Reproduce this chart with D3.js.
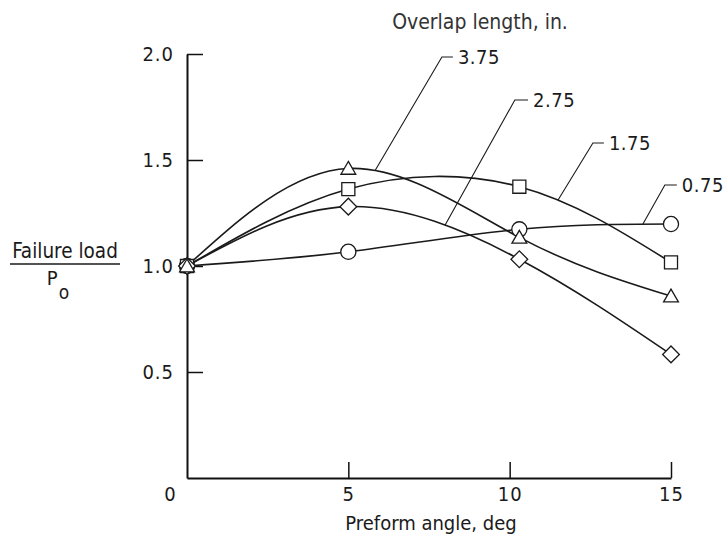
<!DOCTYPE html>
<html>
<head>
<meta charset="utf-8">
<script src="https://cdn.jsdelivr.net/npm/d3@7"></script>
<style>
  body { margin: 0; background: #fff; }
  text { font-family: "DejaVu Sans Condensed", "DejaVu Sans", sans-serif; fill: #1a1a1a; }
</style>
</head>
<body>
<svg id="chart"></svg>
<script>
// values
var angle = [0, 5, 10.3, 15];
var overlap075 = [1.0, 1.067, 1.173, 1.198];
var overlap175 = [1.0, 1.363, 1.374, 1.017];
var overlap275 = [1.0, 1.28, 1.032, 0.583];
var overlap375 = [1.0, 1.46, 1.135, 0.858];

var seriesNames = ["0.75", "1.75", "2.75", "3.75"];
var seriesValues = [overlap075, overlap175, overlap275, overlap375];
var seriesSymbols = ["circle", "square", "diamond", "triangle"];

var xTicks = [0, 5, 10, 15];
var yTicks = [0.5, 1.0, 1.5, 2.0];

// callouts: where the leader meets the curve (x), and where the label sits
var callouts = [
  { name: "3.75", attachX: 5.83, elbowX: 7.9, endX: 8.24, labelY: 1.986 },
  { name: "2.75", attachX: 8.0, elbowX: 10.16, endX: 10.57, labelY: 1.783 },
  { name: "1.75", attachX: 11.5, elbowX: 12.58, endX: 12.92, labelY: 1.58 },
  { name: "0.75", attachX: 14.13, elbowX: 14.81, endX: 15.18, labelY: 1.382 }
];

var width = 726, height = 545;

var svg = d3.select("#chart")
  .attr("width", width)
  .attr("height", height);

svg.append("rect").attr("width", width).attr("height", height).attr("fill", "#fff");

var x = d3.scaleLinear().domain([0, 15]).range([187, 671]);
var y = d3.scaleLinear().domain([0, 2]).range([478, 54]);

// y axis, ticks pointing inward
var yAxis = svg.append("g")
  .attr("transform", "translate(" + x(0) + ",0)")
  .call(d3.axisLeft(y).tickValues(yTicks).tickSizeInner(-16).tickSizeOuter(0)
    .tickPadding(13).tickFormat(d3.format(".1f")));

// x axis, ticks pointing up
var xAxis = svg.append("g")
  .attr("transform", "translate(0," + y(0) + ")")
  .call(d3.axisBottom(x).tickValues(xTicks).tickSizeInner(-16).tickSizeOuter(0)
    .tickPadding(9).tickFormat(d3.format("d")));

[xAxis, yAxis].forEach(function(a) {
  a.select(".domain").attr("stroke", "#111").attr("stroke-width", 2);
  a.selectAll(".tick line").attr("stroke", "#111").attr("stroke-width", 1.5);
  a.selectAll(".tick text").attr("font-family", null).style("font-size", "20px")
    .style("letter-spacing", "1px").style("fill", "#1a1a1a");
});
// the "0" sits left of the corner
xAxis.selectAll(".tick text").filter(function(d) { return d === 0; }).attr("dx", -17);
xAxis.selectAll(".tick line").filter(function(d) { return d === 0; }).remove();

// curves
var line = d3.line()
  .x(function(d) { return x(d[0]); })
  .y(function(d) { return y(d[1]); })
  .curve(d3.curveNatural);

var paths = {};
seriesValues.forEach(function(vals, i) {
  var pts = angle.map(function(a, j) { return [a, vals[j]]; });
  paths[seriesNames[i]] = svg.append("path")
    .attr("d", line(pts))
    .attr("fill", "none")
    .attr("stroke", "#1a1a1a")
    .attr("stroke-width", 1.6);
});

// find the point on a curve at a given pixel x
function pointAtX(pathNode, px) {
  var len = pathNode.getTotalLength(), lo = 0, hi = len, p;
  for (var k = 0; k < 40; k++) {
    var mid = (lo + hi) / 2;
    p = pathNode.getPointAtLength(mid);
    if (p.x < px) lo = mid; else hi = mid;
  }
  return p;
}

// leaders and labels
callouts.forEach(function(c) {
  var p = pointAtX(paths[c.name].node(), x(c.attachX));
  svg.append("polyline")
    .attr("points", [[p.x, p.y], [x(c.elbowX), y(c.labelY)], [x(c.endX), y(c.labelY)]].join(" "))
    .attr("fill", "none")
    .attr("stroke", "#1a1a1a")
    .attr("stroke-width", 1.1);
  svg.append("text")
    .attr("x", x(c.endX) + 5)
    .attr("y", y(c.labelY))
    .attr("dy", "0.36em")
    .style("font-size", "20px")
    .style("letter-spacing", "0.5px")
    .text(c.name);
});

// markers
var symbolTypes = {
  circle: d3.symbolCircle,
  square: d3.symbolSquare,
  diamond: d3.symbolSquare,
  triangle: d3.symbolTriangle
};
var symbolSizes = { circle: 180, square: 170, diamond: 140, triangle: 95 };

seriesValues.forEach(function(vals, i) {
  var s = seriesSymbols[i];
  var sym = d3.symbol().type(symbolTypes[s]).size(symbolSizes[s]);
  svg.selectAll(null)
    .data(angle.map(function(a, j) { return [a, vals[j]]; }))
    .enter().append("path")
    .attr("d", sym)
    .attr("transform", function(d) {
      var dy = s === "triangle" ? 1.5 : 0;
      var t = "translate(" + x(d[0]) + "," + (y(d[1]) + dy) + ")";
      return s === "diamond" ? t + " rotate(45)" : t;
    })
    .attr("fill", "#fff")
    .attr("stroke", "#1a1a1a")
    .attr("stroke-width", 1.3);
});

// titles
svg.append("text")
  .attr("x", 480).attr("y", 21).attr("dy", "0.36em")
  .attr("text-anchor", "middle")
  .style("font-size", "21px")
  .style("fill", "#333")
  .text("Overlap length, in.");

svg.append("text")
  .attr("x", 431).attr("y", 523).attr("dy", "0.36em")
  .attr("text-anchor", "middle")
  .style("font-size", "20px")
  .text("Preform angle, deg");

svg.append("text")
  .attr("x", 65).attr("y", 251).attr("dy", "0.36em")
  .attr("text-anchor", "middle")
  .style("font-size", "20.5px")
  .text("Failure load");
svg.append("line")
  .attr("x1", 10).attr("x2", 120).attr("y1", 264).attr("y2", 264)
  .attr("stroke", "#1a1a1a").attr("stroke-width", 1.3);
var po = svg.append("text")
  .attr("x", 58).attr("y", 278).attr("dy", "0.36em")
  .attr("text-anchor", "middle")
  .style("font-size", "20px");
po.append("tspan").text("P");
po.append("tspan").attr("dy", "0.7em").attr("dx", "1").style("font-size", "19px").text("o");
</script>
</body>
</html>
